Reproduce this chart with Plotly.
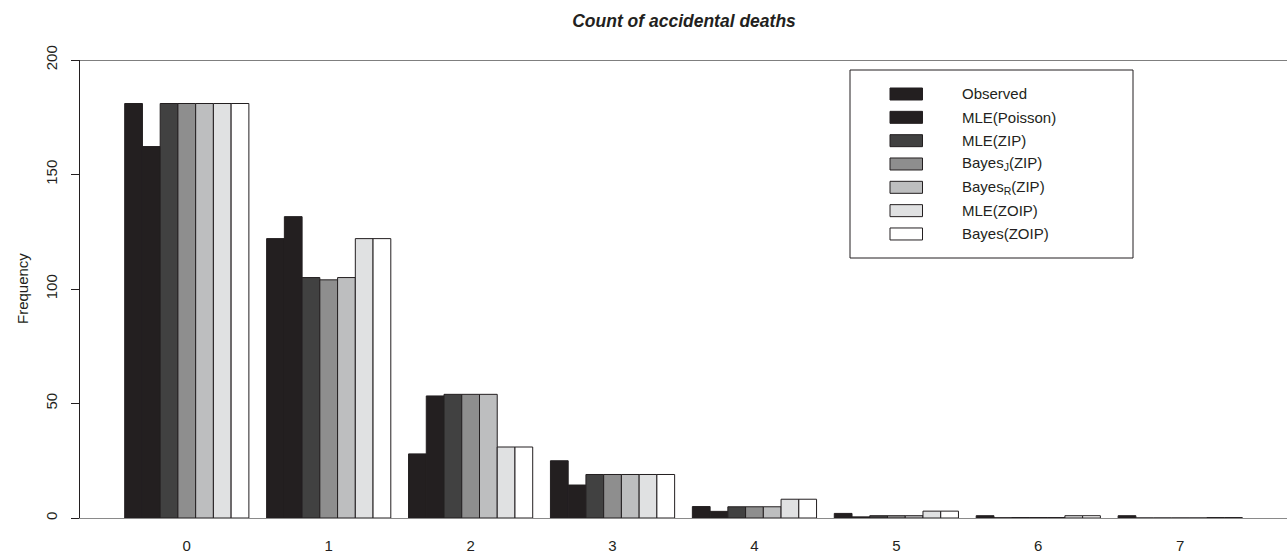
import plotly.graph_objects as go

categories = ["0", "1", "2", "3", "4", "5", "6", "7"]
observed = [181, 122, 28, 25, 5, 2, 1, 1]
mle_poisson = [162.2, 131.6, 53.3, 14.4, 2.9, 0.5, 0.1, 0.0]
mle_zip = [181, 105, 54, 19, 4.9, 1.0, 0.2, 0.0]
bayes_j_zip = [181, 104, 54, 19, 4.9, 1.0, 0.2, 0.0]
bayes_r_zip = [181, 105, 54, 19, 4.9, 1.0, 0.2, 0.0]
mle_zoip = [181, 122, 31, 19, 8.2, 3.0, 1.0, 0.2]
bayes_zoip = [181, 122, 31, 19, 8.2, 3.0, 1.0, 0.2]

series_names = ["Observed", "MLE(Poisson)", "MLE(ZIP)", "Bayes<sub>J</sub>(ZIP)",
                "Bayes<sub>R</sub>(ZIP)", "MLE(ZOIP)", "Bayes(ZOIP)"]
series_values = [observed, mle_poisson, mle_zip, bayes_j_zip, bayes_r_zip, mle_zoip, bayes_zoip]
fills = ["#231f20", "#231f20", "#414141", "#8e8e8e", "#bdbebf", "#e0e1e2", "#ffffff"]
edge = "#231f20"

FONT = "Liberation Sans, Arial, Helvetica, sans-serif"

fig = go.Figure()
for name, vals, col in zip(series_names, series_values, fills):
    fig.add_trace(go.Bar(x=categories, y=vals, name=name, marker_color=col,
                         marker_line_color=edge, marker_line_width=1, showlegend=False))

W, H = 1287, 554
ML, MR, MT, MB = 80, 0, 60, 36
pw, ph = W - ML - MR, H - MT - MB

def px_x(x):
    return (x - ML) / pw

def px_y(y):
    return (H - MB - y) / ph

shapes = []
annotations = []
# top border line at y = 200
shapes.append(dict(type="line", xref="paper", yref="y", x0=0, x1=1, y0=200, y1=200,
                   line=dict(color="#555555", width=1.5)))
# legend box
shapes.append(dict(type="rect", xref="paper", yref="paper",
                   x0=px_x(850), x1=px_x(1133), y0=px_y(258), y1=px_y(70),
                   line=dict(color="#231f20", width=1), fillcolor="white"))
row0, step = 94, 23.33
for i, (name, col) in enumerate(zip(series_names, fills)):
    cy = row0 + i * step
    shapes.append(dict(type="rect", xref="paper", yref="paper",
                       x0=px_x(890), x1=px_x(922.5), y0=px_y(cy + 6), y1=px_y(cy - 6),
                       line=dict(color=edge, width=1), fillcolor=col))
    annotations.append(dict(text=name, xref="paper", yref="paper", x=px_x(960), y=px_y(cy),
                            xanchor="left", yanchor="middle", showarrow=False,
                            font=dict(family=FONT, size=15, color="#231f20")))

annotations.append(dict(text="Frequency", xref="paper", yref="paper", x=px_x(22), y=0.5,
                        textangle=-90, xanchor="center", yanchor="middle", showarrow=False,
                        font=dict(family=FONT, size=15, color="#231f20")))

fig.update_layout(
    width=W, height=H,
    margin=dict(l=ML, r=MR, t=MT, b=MB),
    paper_bgcolor="white", plot_bgcolor="white",
    barmode="group", bargap=0.125, bargroupgap=0,
    title=dict(text="Count of accidental deaths", x=684 / W, xanchor="center",
               y=1 - 21 / H, yanchor="middle", xref="container", yref="container",
               font=dict(family=FONT, size=17.5, color="#231f20", weight="bold", style="italic")),
    shapes=shapes, annotations=annotations,
    font=dict(family=FONT, color="#231f20"),
)
fig.update_xaxes(type="category", range=[-0.7525, 7.7525], showgrid=False, zeroline=False,
                 showline=True, linecolor="#8a8a8a", linewidth=1, ticks="",
                 tickfont=dict(family=FONT, size=15, color="#231f20"), ticklabelstandoff=14)
fig.update_yaxes(range=[0, 200], tickvals=[0, 50, 100, 150, 200], showgrid=False, zeroline=False,
                 showline=True, linecolor="#231f20", linewidth=1, ticks="outside", ticklen=8,
                 tickcolor="#231f20", tickangle=-90, ticklabelstandoff=8,
                 tickfont=dict(family=FONT, size=15, color="#231f20"))

fig.write_html("out.html", config={"displayModeBar": False},
               post_script="document.body.style.margin='0';document.body.style.padding='0';")
